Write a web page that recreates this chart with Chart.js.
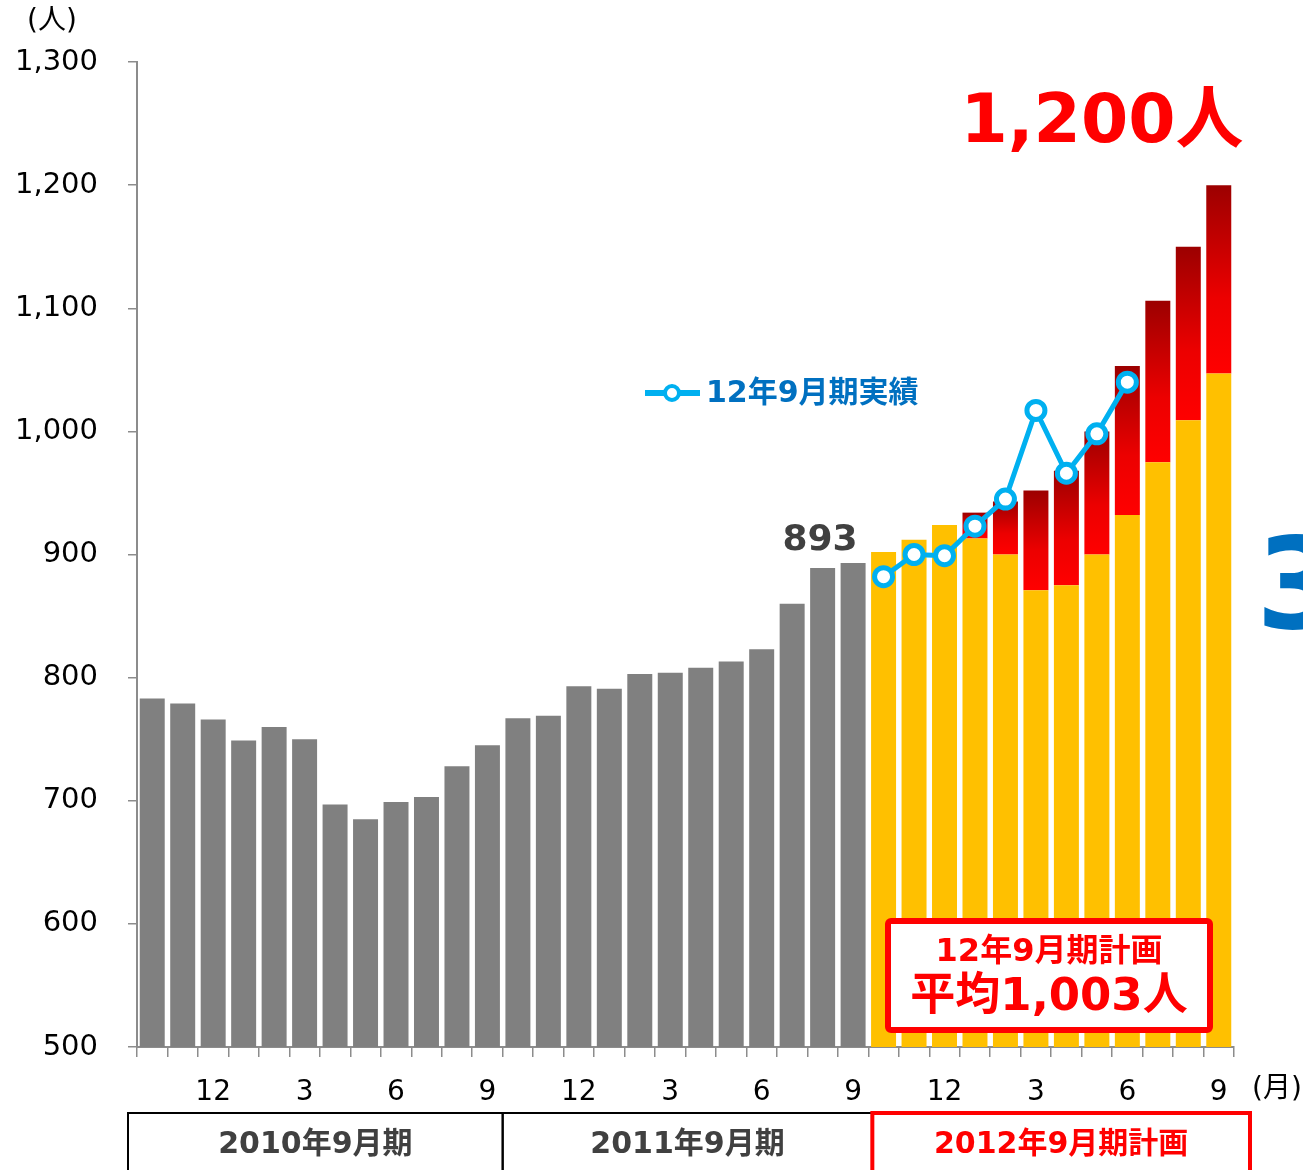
<!DOCTYPE html>
<html lang="ja">
<head>
<meta charset="utf-8">
<script src="https://cdn.jsdelivr.net/npm/chart.js@4/dist/chart.umd.min.js"></script>
<style>
  html, body { margin: 0; padding: 0; background: #fff; }
  #wrap { width: 1303px; height: 1170px; overflow: hidden; }
</style>
</head>
<body>
<div id="wrap"><canvas id="staffChart" width="1303" height="1170"></canvas></div>
<script>
// Monthly headcount, Oct 2009 - Sep 2012
const months = ['10','11','12','1','2','3','4','5','6','7','8','9',
                '10','11','12','1','2','3','4','5','6','7','8','9',
                '10','11','12','1','2','3','4','5','6','7','8','9'];
const shownTicks = ['12', '3', '6', '9'];

// results up to Sep 2011 (gray)
const pastValues = [783, 779, 766, 749, 760, 750, 697, 685, 699, 703, 728, 745,
                    767, 769, 793, 791, 803, 804, 808, 813, 823, 860, 889, 893];
// FY2012 plan: base (yellow) and plan total incl. increment (red)
const planBase = [902, 912, 924, 913, 900, 871, 875, 900, 932, 975, 1009, 1047];
const planTotal = [902, 912, 924, 934, 943, 952, 968, 1000, 1053, 1106, 1150, 1200];
// FY2012 actual (blue line)
const actual2012 = [882, 900, 899, 923, 945, 1017, 966, 998, 1040];

const yTicks = [500, 600, 700, 800, 900, 1000, 1100, 1200, 1300];

const FONT = "'DejaVu Sans', 'Noto Sans CJK JP', sans-serif";
function bold(s) { return 'bold ' + s + 'px ' + FONT; }

const nPast = pastValues.length;
const grayData = months.map((m, i) => i < nPast ? pastValues[i] : null);
const yellowData = months.map((m, i) => i >= nPast ? planBase[i - nPast] : null);
const redData = months.map((m, i) => {
    if (i < nPast) return null;
    const d = planTotal[i - nPast] - planBase[i - nPast];
    return d > 0 ? d : null;
});
const lineData = months.map((m, i) => {
    const k = i - nPast;
    return (k >= 0 && k < actual2012.length) ? actual2012[k] : null;
});

function redGradient(ctx) {
    const chart = ctx.chart;
    const y = chart.scales.y;
    const k = ctx.dataIndex - nPast;
    if (ctx.type !== 'data' || !y || k < 0) return '#E00000';
    const top = y.getPixelForValue(planTotal[k]);
    const bot = y.getPixelForValue(planBase[k]);
    if (!isFinite(top) || !isFinite(bot) || top === bot) return '#E00000';
    const g = chart.ctx.createLinearGradient(0, bot, 0, top);
    g.addColorStop(0, '#FF0000');
    g.addColorStop(0.4, '#EC0000');
    g.addColorStop(1, '#9C0000');
    return g;
}

const annotations = {
    id: 'annotations',
    afterDraw(chart) {
        const c = chart.ctx;
        const x = chart.scales.x;
        const y = chart.scales.y;
        const step = x.getPixelForValue(1) - x.getPixelForValue(0);
        const edge = i => x.getPixelForValue(i) - step / 2;
        c.save();

        // unit labels
        c.fillStyle = '#000';
        c.font = '28px ' + FONT;
        c.textAlign = 'center';
        c.textBaseline = 'middle';
        c.fillText('(人)', 52, 22);
        c.textAlign = 'left';
        c.fillText('(月)', 1252, 1090);

        // 893 label above last gray bar
        c.fillStyle = '#404040';
        c.font = bold(36);
        c.textAlign = 'center';
        c.textBaseline = 'alphabetic';
        c.fillText(String(pastValues[nPast - 1]), x.getPixelForValue(nPast - 1) - 33,
                   y.getPixelForValue(pastValues[nPast - 1]) - 13);

        // 1,200人 headline
        const last = planTotal[planTotal.length - 1];
        c.fillStyle = '#FF0000';
        c.font = bold(68);
        c.fillText(last.toLocaleString('en-US') + '人', 1102, 142);

        // legend for blue line
        c.strokeStyle = '#00B0F0';
        c.lineWidth = 6;
        c.beginPath();
        c.moveTo(645, 393);
        c.lineTo(700, 393);
        c.stroke();
        c.beginPath();
        c.arc(672, 393, 7, 0, Math.PI * 2);
        c.fillStyle = '#fff';
        c.fill();
        c.lineWidth = 4;
        c.stroke();
        c.fillStyle = '#0070C0';
        c.font = bold(30);
        c.textAlign = 'left';
        c.textBaseline = 'middle';
        c.fillText('12年9月期実績', 706, 394);

        // plan average box
        const avg = Math.floor(planTotal.reduce((a, b) => a + b, 0) / planTotal.length);
        c.fillStyle = '#fff';
        c.strokeStyle = '#FF0000';
        c.lineWidth = 6;
        c.beginPath();
        c.roundRect(888, 921, 322, 109, 3);
        c.fill();
        c.stroke();
        c.fillStyle = '#FF0000';
        c.textAlign = 'center';
        c.font = bold(32);
        c.fillText('12年9月期計画', 1049, 953);
        c.font = bold(45);
        c.fillText('平均' + avg.toLocaleString('en-US') + '人', 1049, 998);

        // fiscal period boxes under the axis
        const boxTop = 1113;
        const periods = [
            { text: '2010年9月期', from: edge(0) - 9, to: edge(12), color: '#000', textColor: '#404040', w: 2 },
            { text: '2011年9月期', from: edge(12), to: edge(24) + 4, color: '#000', textColor: '#404040', w: 2 },
            { text: '2012年9月期計画', from: edge(24) + 4, to: edge(36) + 16, color: '#FF0000', textColor: '#FF0000', w: 4 }
        ];
        c.font = bold(30);
        periods.forEach(p => {
            c.strokeStyle = p.color;
            c.lineWidth = p.w;
            c.strokeRect(p.from, boxTop, p.to - p.from, 100);
            c.fillStyle = p.textColor;
            c.fillText(p.text, (p.from + p.to) / 2, 1145);
        });

        // cut-off blue figure at right edge
        c.fillStyle = '#0070C0';
        c.font = bold(126);
        c.textAlign = 'left';
        c.textBaseline = 'alphabetic';
        c.fillText('3', 1256, 628);

        c.restore();
    }
};

new Chart(document.getElementById('staffChart'), {
    type: 'bar',
    data: {
        labels: months,
        datasets: [
            {
                type: 'line',
                label: '12年9月期実績',
                data: lineData,
                order: 0,
                borderColor: '#00B0F0',
                borderWidth: 5,
                pointRadius: 9,
                pointBorderWidth: 5,
                pointBackgroundColor: '#fff',
                pointBorderColor: '#00B0F0',
                tension: 0,
                spanGaps: false
            },
            { label: 'past', data: grayData, backgroundColor: '#808080', order: 1 },
            { label: 'plan base', data: yellowData, backgroundColor: '#FFC000', order: 1 },
            { label: 'plan increment', data: redData, backgroundColor: redGradient, order: 1 }
        ]
    },
    options: {
        responsive: false,
        animation: false,
        layout: { padding: { top: 62, right: 69, left: 0, bottom: 0 } },
        datasets: {
            bar: { barPercentage: 0.82, categoryPercentage: 1, borderWidth: 0 }
        },
        plugins: {
            legend: { display: false },
            tooltip: { enabled: false }
        },
        scales: {
            x: {
                stacked: true,
                afterFit: s => { s.height = 123; },
                grid: { drawOnChartArea: false, color: '#8c8c8c', tickLength: 10, lineWidth: 1.5 },
                border: { color: '#8c8c8c', width: 2 },
                ticks: {
                    autoSkip: false,
                    maxRotation: 0,
                    padding: 19,
                    color: '#000',
                    font: { family: FONT, size: 28 },
                    callback: function (v, i) {
                        const m = months[i];
                        return shownTicks.includes(m) ? m : '';
                    }
                }
            },
            y: {
                stacked: true,
                min: yTicks[0],
                max: yTicks[yTicks.length - 1],
                afterFit: s => { s.width = 137; },
                afterBuildTicks: s => { s.ticks = yTicks.map(v => ({ value: v })); },
                grid: { drawOnChartArea: false, color: '#8c8c8c', tickLength: 9, lineWidth: 1.5 },
                border: { color: '#8c8c8c', width: 2 },
                ticks: {
                    padding: 30,
                    color: '#000',
                    font: { family: FONT, size: 29 },
                    callback: v => v.toLocaleString('en-US')
                }
            }
        }
    },
    plugins: [annotations]
});
</script>
</body>
</html>
